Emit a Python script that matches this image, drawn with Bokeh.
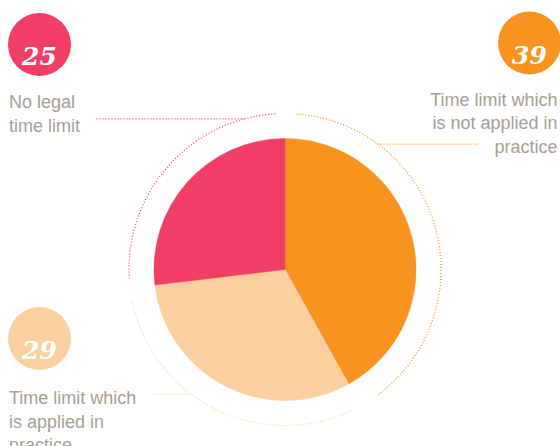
import numpy as np
from bokeh.plotting import figure
from bokeh.models import Range1d, ColumnDataSource
from bokeh.core.properties import value
from bokeh.embed import file_html
from bokeh.resources import INLINE

# ---- data ----
categories = ["Time limit which is not applied in practice",
              "Time limit which is applied in practice",
              "No legal time limit"]
values = [39, 29, 25]
colors = ["#F7931E", "#FCCF9F", "#F03E65"]
label_lines = [["Time limit which", "is not applied in", "practice"],
               ["Time limit which", "is applied in", "practice"],
               ["No legal", "time limit"]]

# ---- layout (page pixel coordinates, y downwards) ----
PAGE_W, PAGE_H = 560, 446
def Y(sy):
    return PAGE_H - sy

CX, CY, R = 284.5, 269.0, 131.0
RING = 156.0
arc_inset_start = [4.2, 3.6, 3.5]
arc_inset_end = [7.5, 4.6, 3.5]
leader_y = [143.7, 393.7, 118.3]
leader_outer_x = [477.0, 153.0, 96.0]
leader_side = [1, -1, -1]
badge_c = [(529.0, 42.5), (39.0, 338.0), (39.0, 44.0)]
badge_r = 31.5
label_anchor = [(557.0, "right"), (8.5, "left"), (8.5, "left")]
label_first_base = [99.5, 397.7, 101.7]
line_step = 23.4
TEXT_GREY = "#a69e97"

p = figure(width=PAGE_W, height=PAGE_H, output_backend="svg", toolbar_location=None,
           x_range=Range1d(0, PAGE_W), y_range=Range1d(0, PAGE_H),
           min_border=0, background_fill_color="white", border_fill_color="white")
p.axis.visible = False
p.grid.visible = False
p.outline_line_color = None

total = float(sum(values))
cum = np.concatenate([[0], np.cumsum(values)]) / total * 360.0
start_cw = cum[:-1]
end_cw = cum[1:]

pie = ColumnDataSource(dict(
    cat=categories, val=values, color=colors,
    start=np.deg2rad(90 - start_cw), end=np.deg2rad(90 - end_cw),
    astart=np.deg2rad(90 - (start_cw + np.array(arc_inset_start))),
    aend=np.deg2rad(90 - (end_cw - np.array(arc_inset_end))),
))

p.wedge(x=CX, y=Y(CY), radius=R, start_angle="start", end_angle="end",
        direction="clock", fill_color="color", line_color="color", line_width=0.5,
        source=pie)

p.arc(x=CX, y=Y(CY), radius=RING, start_angle="astart", end_angle="aend",
      direction="clock", line_color="color", line_dash="1 2", line_width=1.3,
      source=pie)

# leader lines
x0s, x1s, ys = [], [], []
for i in range(len(values)):
    dy = leader_y[i] - CY
    inner = CX + leader_side[i] * np.sqrt(RING ** 2 - dy ** 2)
    x0s.append(leader_outer_x[i]); x1s.append(inner); ys.append(Y(leader_y[i]))
p.segment(x0=x0s, y0=ys, x1=x1s, y1=ys, line_color=colors, line_dash="1 2",
          line_width=1.3)

# badges
bx = [c[0] for c in badge_c]
by = [Y(c[1]) for c in badge_c]
p.circle(x=bx, y=by, radius=badge_r, fill_color=colors, line_color=None)
p.text(x=bx, y=[Y(c[1] + 11.5) for c in badge_c], text=[str(v) for v in values],
       text_color="white", text_font=value("DejaVu Serif"),
       text_font_style="bold italic", text_font_size="25px",
       text_align="center", text_baseline="alphabetic")

# labels
for i, lines in enumerate(label_lines):
    ax, al = label_anchor[i]
    yy = [Y(label_first_base[i] + k * line_step) for k in range(len(lines))]
    p.text(x=[ax] * len(lines), y=yy, text=lines, text_color=TEXT_GREY,
           text_font=value("Liberation Sans"), text_font_size="18px",
           text_align=al, text_baseline="alphabetic")

open("out.html", "w").write(file_html(p, INLINE))
